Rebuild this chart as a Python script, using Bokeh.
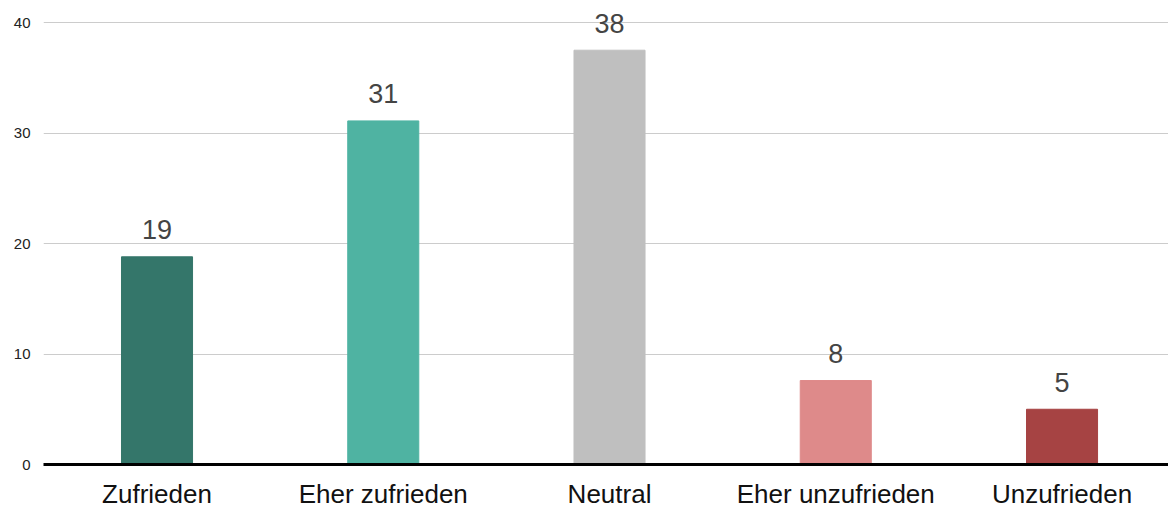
from bokeh.plotting import figure
from bokeh.models import ColumnDataSource, Range1d
from bokeh.core.properties import value
from bokeh.embed import file_html
from bokeh.resources import INLINE

categories = ["Zufrieden", "Eher zufrieden", "Neutral", "Eher unzufrieden", "Unzufrieden"]
values = [18.8, 31.1, 37.5, 7.6, 5.0]
colors = ["#34766a", "#4fb3a2", "#bfbfbf", "#de8a8a", "#a64343"]
y_ticks = [0, 10, 20, 30, 40]

positions = list(range(len(categories)))
labels = [str(int(v + 0.5)) for v in values]
source = ColumnDataSource(data=dict(x=positions, cat=categories, val=values, color=colors, label=labels))

p = figure(x_range=Range1d(-0.5017, 4.4706), y_range=Range1d(0, 42.0),
           width=1168, height=509, frame_width=1125, frame_height=464,
           output_backend="svg", toolbar_location=None,
           min_border_top=0, min_border_right=0, min_border_left=43, min_border_bottom=45,
           outline_line_color=None)

p.vbar(x="x", top="val", width=0.314, color="color", source=source)
p.text(x="x", y="val", text="label", source=source, text_align="center",
       text_baseline="alphabetic", y_offset=-27, text_font=value("Liberation Sans"),
       text_font_size="27px", text_color="#444444")

p.yaxis.ticker = y_ticks
p.yaxis.axis_line_color = None
p.yaxis.major_tick_line_color = None
p.yaxis.minor_tick_line_color = None
p.yaxis.major_tick_out = 0
p.yaxis.minor_tick_out = 0
p.yaxis.major_label_text_font = "Liberation Sans"
p.yaxis.major_label_text_font_size = "15px"
p.yaxis.major_label_text_color = "#222222"
p.yaxis.major_label_standoff = 13

p.xaxis.ticker = positions
p.xaxis.major_label_overrides = {i: c for i, c in zip(positions, categories)}
p.xaxis.axis_line_color = "black"
p.xaxis.axis_line_width = 3
p.xaxis.major_tick_line_color = None
p.xaxis.minor_tick_line_color = None
p.xaxis.major_label_text_font = "Liberation Sans"
p.xaxis.major_label_text_font_size = "26px"
p.xaxis.major_label_text_color = "#111111"
p.xaxis.major_label_standoff = 8

p.xgrid.grid_line_color = None
p.ygrid.grid_line_color = "#cccccc"
p.ygrid.grid_line_width = 1

open("out.html", "w").write(file_html(p, INLINE))
